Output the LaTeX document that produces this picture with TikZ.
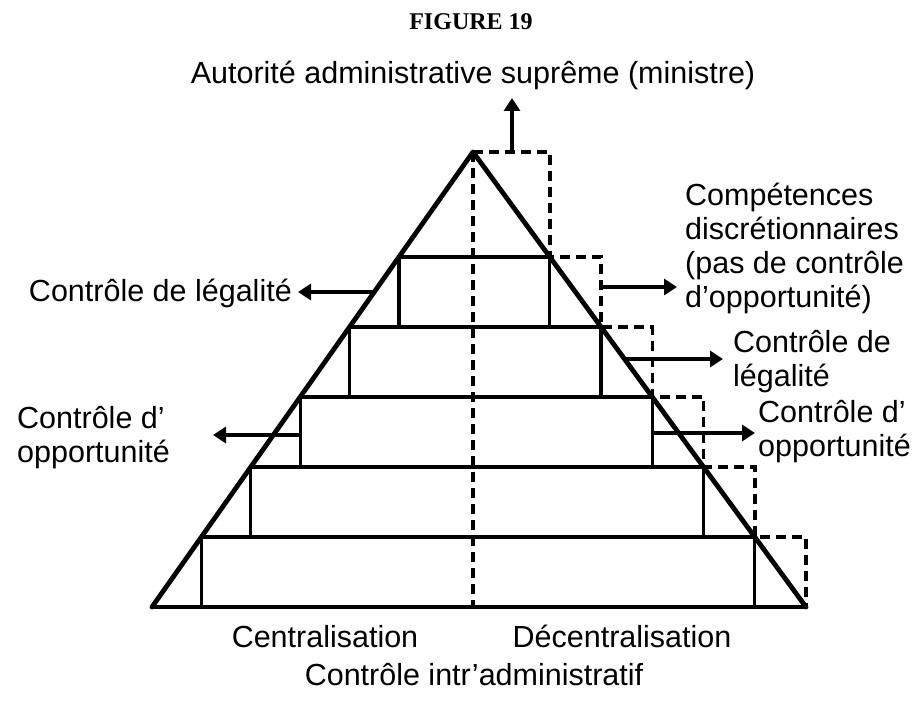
\documentclass[tikz,border=0pt]{standalone}
\usepackage{fontspec}
\setmainfont{Liberation Sans}
\newfontfamily\titlefont{Liberation Serif}
\usetikzlibrary{calc,arrows.meta}

\tikzset{
  edge/.style={line width=4.8pt, line cap=round, line join=round},
  level/.style={line width=3.8pt},
  stub/.style={line width=3.2pt},
  dashline/.style={line width=3.5pt, dash pattern=on 10pt off 6pt},
  pointer/.style={line width=3.5pt, -{Triangle[length=13pt,width=16pt]}},
  label/.style={font=\fontsize{30.5}{34}\selectfont, inner sep=0pt},
  title/.style={font=\titlefont\bfseries\fontsize{24}{28}\selectfont, inner sep=0pt},
}

\begin{document}
\begin{tikzpicture}[x=1pt, y=-1pt]
  \useasboundingbox (0,0) rectangle (921,703);

  % apex and base corners of the pyramid
  \coordinate (A) at (473,152);
  \coordinate (BL) at (152,607);
  \coordinate (BR) at (806,607);
  \coordinate (BM) at (473,607);

  % corners of the five inner levels on both slopes
  \foreach \k in {1,...,5} {
    \coordinate (L\k) at ($(A)!{(\k+0.5)/6.5}!(BL)$);
    \coordinate (R\k) at ($(A)!{(\k+0.5)/6.5}!(BR)$);
  }
  \coordinate (L6) at (BL);
  \coordinate (R6) at (BR);

  % horizontal levels
  \foreach \k in {1,...,5} {
    \draw[level] (L\k) -- (R\k);
  }
  \draw[level] (BL) -- (BR);

  % short vertical walls inside each band
  \foreach \k [evaluate=\k as \n using int(\k+1)] in {1,...,5} {
    \draw[stub] (L\k) -- (L\k |- L\n);
    \draw[stub] (R\k) -- (R\k |- R\n);
  }

  % slopes of the pyramid
  \draw[edge] (BL) -- (A) -- (BR);

  % central dashed axis and the stepped dashed outline
  \draw[dashline] (A) -- (BM);
  \draw[dashline] (A) -| (R1) -| (R2) -| (R3) -| (R4) -| (R5) -| (BR);

  % texts
  \node[title, anchor=base] (fig) at (471,30) {FIGURE 19};
  \node[label, anchor=base] (top) at (473,84) {Autorité administrative suprême (ministre)};

  \node[label, align=left, anchor=north west] (disc) at (685,183)
    {Compétences\\discrétionnaires\\(pas de contrôle\\d’opportunité)};
  \node[label, align=left, anchor=north west] (legR) at (733,330)
    {Contrôle de\\légalité};
  \node[label, align=left, anchor=north west] (oppR) at (758,400)
    {Contrôle d’\\opportunité};

  \node[label, anchor=base east] (legL) at (292,302) {Contrôle de légalité};
  \node[label, align=left, anchor=north west] (oppL) at (17,406)
    {Contrôle d’\\opportunité};

  \node[label, anchor=base] (cen) at (325,647) {Centralisation};
  \node[label, anchor=base] (dec) at (622,647) {Décentralisation};
  \node[label, anchor=base] (ctl) at (474,685) {Contrôle intr’administratif};

  % pointers
  \coordinate (t0) at (512,152);
  \coordinate (t1) at (512,98);
  \draw[pointer] (t0) -- (t1);

  \coordinate (r1a) at (R2 |- 0,287);
  \coordinate (r1b) at (677,287);
  \draw[pointer] (r1a) -- (r1b);

  \coordinate (r2a) at (624,359);
  \coordinate (r2b) at (723,359);
  \draw[pointer] (r2a) -- (r2b);

  \coordinate (r3a) at (R3 |- 0,433);
  \coordinate (r3b) at (755,433);
  \draw[pointer] (r3a) -- (r3b);

  \coordinate (l1a) at (374,292);
  \coordinate (l1b) at (298,292);
  \draw[pointer] (l1a) -- (l1b);

  \coordinate (l2a) at (L3 |- 0,435);
  \coordinate (l2b) at (213,435);
  \draw[pointer] (l2a) -- (l2b);
\end{tikzpicture}
\end{document}
